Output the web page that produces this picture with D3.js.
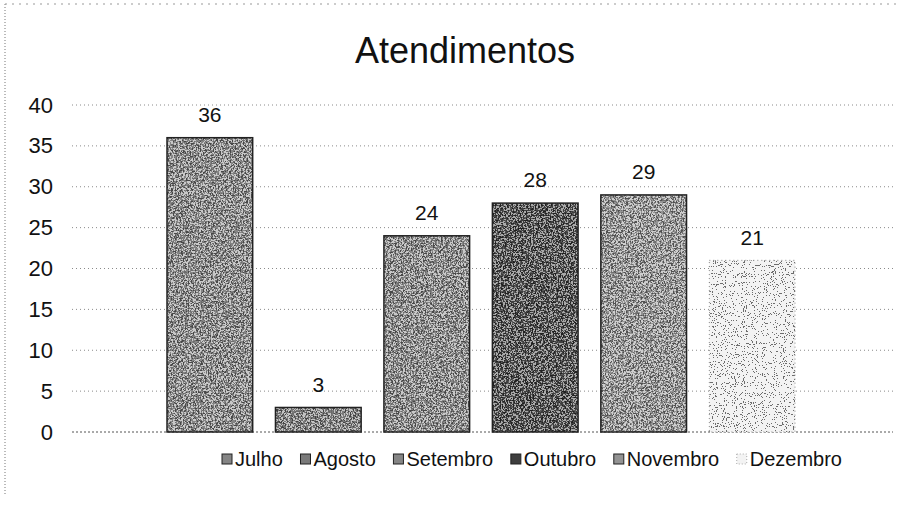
<!DOCTYPE html>
<html><head><meta charset="utf-8">
<script src="https://cdn.jsdelivr.net/npm/d3@7"></script>
<style>html,body{margin:0;padding:0;background:#fff;}svg{display:block;font-family:"Liberation Sans",Arial,sans-serif;}</style>
</head><body><div id="chart"></div>
<script>
const title = "Atendimentos";
const months = ["Julho","Agosto","Setembro","Outubro","Novembro","Dezembro"];
const values = [36, 3, 24, 28, 29, 21];
const yTicks = [0,5,10,15,20,25,30,35,40];
const fills = ["#858585","#7a7a7a","#858585","#3e3e3e","#939393","#f3f3f3"];

const W = 908, H = 513;
const svg = d3.select("#chart").append("svg").attr("width", W).attr("height", H);
const defs = svg.append("defs");

function grain(id, color, seed, freq, table) {
  const f = defs.append("filter").attr("id", id).attr("x", 0).attr("y", 0).attr("width", 1).attr("height", 1)
    .attr("filterUnits", "objectBoundingBox").attr("color-interpolation-filters", "sRGB");
  f.append("feTurbulence").attr("type", "fractalNoise").attr("baseFrequency", freq).attr("numOctaves", 2).attr("seed", seed).attr("result", "n");
  const c = color === "white" ? 1 : 0;
  f.append("feColorMatrix").attr("in", "n").attr("type", "matrix")
    .attr("values", `0 0 0 0 ${c}  0 0 0 0 ${c}  0 0 0 0 ${c}  1 0 0 0 0`).attr("result", "m");
  const ct = f.append("feComponentTransfer").attr("in", "m").attr("result", "d");
  ct.append("feFuncA").attr("type", "discrete").attr("tableValues", table);
  f.append("feComposite").attr("in", "d").attr("in2", "SourceGraphic").attr("operator", "in");
}
grain("gw", "white", 3, 0.6, "0 0 0 0 0 0 0 0 0 0 1 1 1 1 1 1 1 1 1 1");
grain("gb", "black", 9, 0.6, "0 0 0 0 0 0 0 0 0 0 0 1 1 1 1 1 1 1 1 1");
grain("gd", "black", 5, 0.9, "0 0 0 0 0 0 0 0 0 0 0 0 0 1 1 1 1 1 1 1");

const x = d3.scaleBand().domain(months).range([167, 795]).paddingInner(0.21).paddingOuter(0);
const y = d3.scaleLinear().domain([0, 40]).range([432, 105]);
const gridX0 = 72, gridX1 = 893;

// chart border (dotted, scanned look)
svg.append("line").attr("x1", 5).attr("x2", 5).attr("y1", 4).attr("y2", 495)
  .attr("stroke", "#777").attr("stroke-width", 1).attr("stroke-dasharray", "1,2");
svg.append("line").attr("x1", 5).attr("x2", 900).attr("y1", 4).attr("y2", 4)
  .attr("stroke", "#999").attr("stroke-width", 1).attr("stroke-dasharray", "2,5");

// title
svg.append("text").attr("x", 465).attr("y", 63).attr("text-anchor", "middle")
  .attr("font-size", 36).attr("fill", "#111").text(title);

// gridlines
svg.append("g").selectAll("line").data(yTicks).join("line")
  .attr("x1", gridX0).attr("x2", gridX1)
  .attr("y1", d => y(d)).attr("y2", d => y(d))
  .attr("stroke", d => d === 0 ? "#555" : "#8a8a8a").attr("stroke-width", 1)
  .attr("stroke-dasharray", d => d === 0 ? "2,2" : "1,3");

// y axis labels
const yAxis = d3.axisLeft(y).tickValues(yTicks).tickSize(0).tickPadding(0);
const ga = svg.append("g").attr("transform", "translate(53,0)").call(yAxis);
ga.select(".domain").remove();
ga.selectAll("text").attr("font-size", 22).attr("fill", "#111").attr("font-family", "Liberation Sans, Arial, sans-serif");

// bars
const bars = svg.append("g").selectAll("g").data(months).join("g");
bars.append("rect").attr("x", d => x(d)).attr("y", (d, i) => y(values[i]))
  .attr("width", x.bandwidth()).attr("height", (d, i) => y(0) - y(values[i]))
  .attr("fill", (d, i) => fills[i]);
bars.filter((d, i) => i < 5).append("rect").attr("x", d => x(d)).attr("y", (d, i) => y(values[i]))
  .attr("width", x.bandwidth()).attr("height", (d, i) => y(0) - y(values[i]))
  .attr("fill", "#fff").attr("filter", "url(#gw)").attr("opacity", 0.55);
bars.filter((d, i) => i < 5).append("rect").attr("x", d => x(d)).attr("y", (d, i) => y(values[i]))
  .attr("width", x.bandwidth()).attr("height", (d, i) => y(0) - y(values[i]))
  .attr("fill", "#000").attr("filter", "url(#gb)").attr("opacity", 0.45);
bars.filter((d, i) => i === 5).append("rect").attr("x", d => x(d)).attr("y", y(values[5]))
  .attr("width", x.bandwidth()).attr("height", y(0) - y(values[5]))
  .attr("fill", "#000").attr("filter", "url(#gd)").attr("opacity", 0.55);
// outlines
bars.append("rect").attr("x", d => x(d)).attr("y", (d, i) => y(values[i]))
  .attr("width", x.bandwidth()).attr("height", (d, i) => y(0) - y(values[i]))
  .attr("fill", "none")
  .attr("stroke", (d, i) => i === 5 ? "#888" : "#222")
  .attr("stroke-width", (d, i) => i === 5 ? 1 : 1.5)
  .attr("stroke-dasharray", (d, i) => i === 5 ? "1,3" : null);

// data labels
svg.append("g").selectAll("text").data(months).join("text")
  .attr("x", d => x(d) + x.bandwidth() / 2)
  .attr("y", (d, i) => y(values[i]) - 23).attr("dy", "0.35em")
  .attr("text-anchor", "middle").attr("font-size", 21).attr("fill", "#111")
  .text((d, i) => values[i]);

// legend
const lg = svg.append("g");
const items = lg.selectAll("g").data(months).join("g");
items.append("rect").attr("width", 10).attr("height", 10).attr("y", -5)
  .attr("fill", (d, i) => fills[i])
  .attr("stroke", (d, i) => i === 5 ? "#aaa" : "#222").attr("stroke-width", 1)
  .attr("stroke-dasharray", (d, i) => i === 5 ? "1,2" : null);
items.append("text").attr("x", 13).attr("dy", "0.35em").attr("font-size", 20).attr("fill", "#111").text(d => d);
const widths = [];
items.each(function () { widths.push(13 + d3.select(this).select("text").node().getComputedTextLength()); });
const legL = 222, legR = 842;
const gap = (legR - legL - d3.sum(widths)) / (months.length - 1);
let cx = legL;
items.attr("transform", (d, i) => { const t = `translate(${cx},459)`; cx += widths[i] + gap; return t; });
</script>
</body></html>
